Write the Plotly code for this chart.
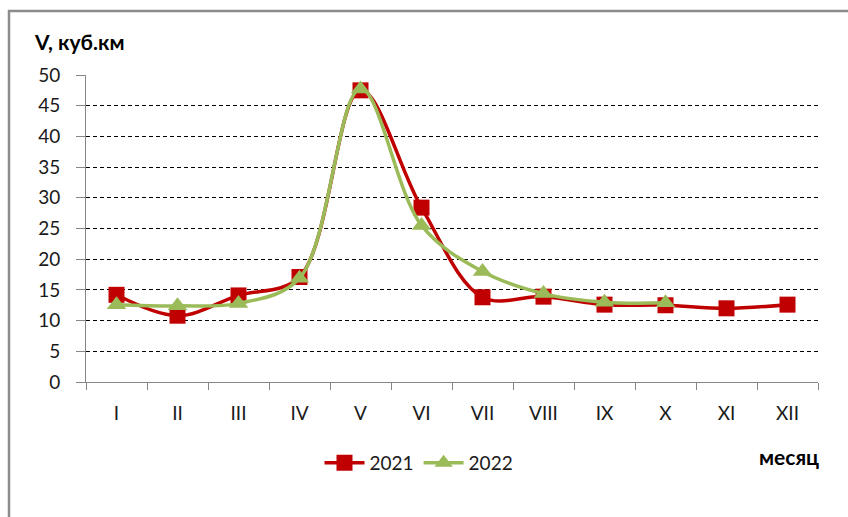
import plotly.graph_objects as go

months = ["I", "II", "III", "IV", "V", "VI", "VII", "VIII", "IX", "X", "XI", "XII"]
v2021 = [14.2, 10.8, 14.1, 17.1, 47.5, 28.4, 13.8, 13.9, 12.6, 12.5, 12.0, 12.6]
v2022 = [12.6, 12.4, 12.8, 16.9, 47.7, 25.5, 18.0, 14.4, 13.0, 12.9]
y_ticks = [0, 5, 10, 15, 20, 25, 30, 35, 40, 45, 50]

W, H = 848, 517
L, R, T, B = 86, 818, 75, 382

FONT = "Lato, 'Open Sans', sans-serif"


def px(x):
    return (x - L) / (R - L)


def py(y):
    return (B - y) / (B - T)


fig = go.Figure()
fig.add_trace(go.Scatter(
    x=months, y=v2021, name="2021", mode="lines+markers",
    line=dict(color="#C00000", width=3.5, shape="spline", smoothing=1.0),
    marker=dict(symbol="square", size=16, color="#C00000"),
))
fig.add_trace(go.Scatter(
    x=months[:len(v2022)], y=v2022, name="2022", mode="lines+markers",
    line=dict(color="#9BBB59", width=3.5, shape="spline", smoothing=1.0),
    marker=dict(symbol="triangle-up", size=17, color="#9BBB59"),
))

border = dict(color="#8c8c8c", width=2.5)

fig.update_layout(
    width=W, height=H,
    margin=dict(l=L, r=W - R, t=T, b=H - B, pad=0),
    paper_bgcolor="white", plot_bgcolor="white",
    font=dict(family=FONT, size=19, color="#1a1a1a"),
    showlegend=True,
    legend=dict(orientation="h", x=px(419), xanchor="center", y=py(463), yanchor="middle",
                font=dict(size=19, color="#1a1a1a"), bgcolor="rgba(0,0,0,0)",
                itemwidth=40, tracegroupgap=0),
    xaxis=dict(
        type="category", categoryorder="array", categoryarray=months,
        range=[-0.5, 11.5], showgrid=False, zeroline=False,
        showline=True, linecolor="#868686", linewidth=1,
        ticks="outside", tickson="boundaries", ticklen=7, tickcolor="#868686",
        ticklabelstandoff=14, tickfont=dict(size=19),
    ),
    yaxis=dict(
        range=[0, 50], tickvals=y_ticks, showgrid=True,
        gridcolor="black", gridwidth=1, griddash="4px,3px",
        zeroline=False, showline=True, linecolor="#868686", linewidth=1,
        ticks="outside", ticklen=9, tickcolor="#868686",
        ticklabelstandoff=12, tickfont=dict(size=19),
    ),
    annotations=[
        dict(text="<b>V, куб.км</b>", xref="paper", yref="paper",
             x=px(32), y=py(42), xanchor="left", yanchor="middle",
             showarrow=False, font=dict(size=21, color="#000000")),
        dict(text="<b>месяц</b>", xref="paper", yref="paper",
             x=px(821), y=py(456), xanchor="right", yanchor="middle",
             showarrow=False, font=dict(size=21, color="#000000")),
    ],
    shapes=[
        dict(type="line", xref="paper", yref="paper",
             x0=px(8), x1=px(860), y0=py(11), y1=py(11), line=border, layer="below"),
        dict(type="line", xref="paper", yref="paper",
             x0=px(9), x1=px(9), y0=py(10), y1=py(540), line=border, layer="below"),
    ],
)

fig.write_html(
    "out.html",
    config={"displayModeBar": False},
    post_script="document.body.style.margin='0px';document.body.style.overflow='hidden';",
)
